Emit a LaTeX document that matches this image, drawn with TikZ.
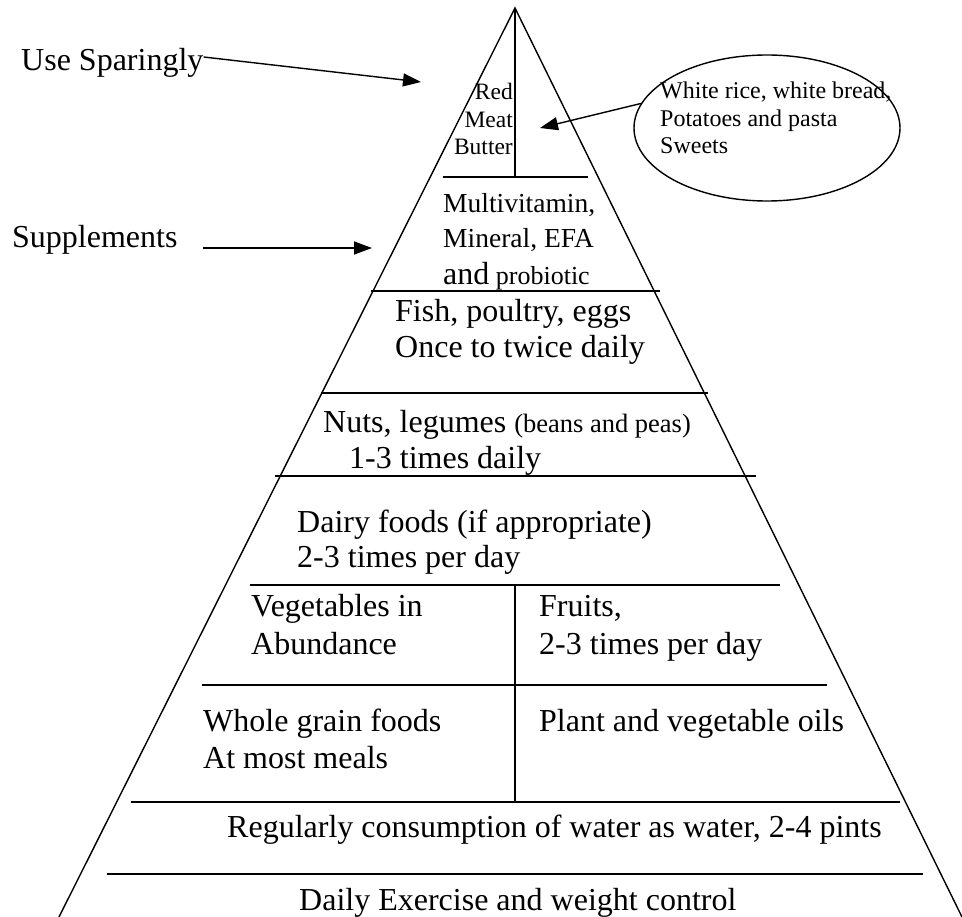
\documentclass[tikz,border=0pt]{standalone}
\usepackage{fontspec}
\setmainfont{Liberation Serif}
\usetikzlibrary{arrows.meta,shapes.geometric}
\begin{document}
\begin{tikzpicture}[x=1pt,y=-1pt,
  lbl/.style={anchor=base west,inner sep=0pt,font=\fontsize{32}{37}\selectfont},
  lble/.style={anchor=base east,inner sep=0pt,font=\fontsize{23.5}{27}\selectfont},
  sml/.style={anchor=base west,inner sep=0pt,font=\fontsize{24}{28}\selectfont},
  mid/.style={anchor=base west,inner sep=0pt,font=\fontsize{27.5}{32}\selectfont},
  side/.style={line width=1.4pt},
  sep/.style={line width=1.8pt},
  arr/.style={line width=1.4pt,-{Triangle[length=18pt,width=13pt]}}]
\useasboundingbox (0,0) rectangle (962,917);
% pyramid
\coordinate (apex) at (515,8);
\coordinate (bl) at (59,917);
\coordinate (br) at (962,917);
\draw[side] (bl) -- (apex) -- (br);
% top vertical divider
\coordinate (v1b) at (515,177);
\draw[side] (apex) -- (v1b);
% horizontal separators
\coordinate (h1a) at (443,177); \coordinate (h1b) at (588,177);
\coordinate (h2a) at (371,291); \coordinate (h2b) at (660,291);
\coordinate (h3a) at (321,393); \coordinate (h3b) at (708,393);
\coordinate (h4a) at (275,476); \coordinate (h4b) at (756,476);
\coordinate (h5a) at (250,585); \coordinate (h5b) at (780,585);
\coordinate (h6a) at (202,685); \coordinate (h6b) at (827,685);
\coordinate (h7a) at (131,802); \coordinate (h7b) at (900,802);
\coordinate (h8a) at (107,874); \coordinate (h8b) at (923,874);
\draw[sep] (h1a) -- (h1b);
\draw[sep] (h2a) -- (h2b);
\draw[sep] (h3a) -- (h3b);
\draw[sep] (h4a) -- (h4b);
\draw[sep] (h5a) -- (h5b);
\draw[sep] (h6a) -- (h6b);
\draw[sep] (h7a) -- (h7b);
\draw[sep] (h8a) -- (h8b);
% lower vertical divider
\coordinate (v2a) at (515,585); \coordinate (v2b) at (515,802);
\draw[side] (v2a) -- (v2b);
% top section texts
\node[lble] (red) at (513,100) {Red};
\node[lble] (meat) at (513,128) {Meat};
\node[lble] (butter) at (513,155) {Butter};
% supplements section
\node[mid] (multi) at (443,213) {Multivitamin,};
\node[mid] (mineral) at (443,248) {Mineral, EFA};
\node[lbl] (and) at (443,285) {and\fontsize{26}{30}\selectfont\ probiotic};
% fish
\node[lbl] (fish) at (395,322) {Fish, poultry, eggs};
\node[lbl] (once) at (395,358) {Once to twice daily};
% nuts
\node[lbl] (nuts) at (323,432) {Nuts, legumes \fontsize{26.5}{30}\selectfont(beans and peas)};
\node[lbl] (times) at (349,468) {1-3 times daily};
% dairy
\node[lbl] (dairy) at (297,532) {Dairy foods (if appropriate)};
\node[lbl] (dairyf) at (297,567) {2-3 times per day};
% vegetables / fruits
\node[lbl] (veg) at (251,616) {Vegetables in};
\node[lbl] (abund) at (251,654) {Abundance};
\node[lbl] (fruits) at (539,616) {Fruits,};
\node[lbl] (fruitf) at (539,654) {2-3 times per day};
% grains / oils
\node[lbl] (whole) at (203,731) {Whole grain foods};
\node[lbl] (meals) at (203,768) {At most meals};
\node[lbl] (plant) at (539,731) {Plant and vegetable oils};
% water / exercise
\node[lbl] (water) at (227,837) {Regularly consumption of water as water, 2-4 pints};
\node[lbl] (exer) at (299,910) {Daily Exercise and weight control};
% left labels and arrows
\node[lbl] (use) at (21,71) {Use Sparingly};
\coordinate (usetip) at (421,82);
\draw[arr] (use.east |- 0,57) -- (usetip);
\node[lbl] (supp) at (12,248) {Supplements};
\coordinate (suppstart) at (203,248);
\coordinate (supptip) at (372,248);
\draw[arr] (suppstart) -- (supptip);
% oval
\node[draw,ellipse,line width=1.4pt,minimum width=266pt,minimum height=146pt,inner sep=0pt] (oval) at (767,128) {};
\node[sml] (white) at (660,99) {White rice, white bread,};
\node[sml] (pot) at (660,127) {Potatoes and pasta};
\node[sml] (sweets) at (660,154) {Sweets};
\coordinate (ovaltip) at (540,128);
\draw[arr] (oval.169) -- (ovaltip);
\end{tikzpicture}
\end{document}
